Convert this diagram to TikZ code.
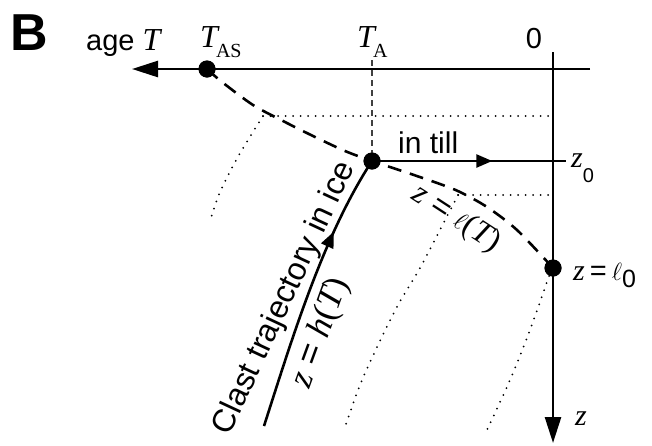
\documentclass[tikz,border=0pt]{standalone}
\usepackage{fontspec}
\setmainfont{Liberation Sans}
\newfontfamily\tms{Liberation Serif}
\usetikzlibrary{arrows.meta,decorations.markings}
\newcommand\mvar[1]{{\tms\itshape #1}}
\newcommand\txtsz{\fontsize{29}{31}\selectfont}
\newcommand\mthsz{\fontsize{32}{34}\selectfont}
\newcommand\zsz{\fontsize{30}{32}\selectfont}
\newcommand\subsz{\fontsize{20}{22}\selectfont}
\begin{document}
\begin{tikzpicture}[x=1pt,y=-1pt,
  axis/.style={line width=2.6pt},
  bigtip/.style={-{Triangle[length=26pt,width=16pt]}},
  dot/.style={circle,fill=black,inner sep=0pt,minimum size=17pt},
  dashcurve/.style={line width=2.6pt,dash pattern=on 14pt off 9pt},
  guide/.style={line width=1.2pt,dash pattern=on 6pt off 4pt,black!75},
  dotline/.style={line width=2pt,line cap=round,dash pattern=on 0pt off 7.5pt,black},
  lbl/.style={inner sep=0pt},
  midarrow/.style={postaction={decorate},decoration={markings,mark=at position #1 with {\arrow{Triangle[length=16pt,width=13pt]}}}}
]
\useasboundingbox (0,0) rectangle (652,445);

% coordinates
\coordinate (hR) at (590,69);
\coordinate (hL) at (132,69);
\coordinate (vT) at (553,52);
\coordinate (vB) at (553,443);
\coordinate (taTop) at (372,60);
\coordinate (z0end) at (566,161);
\coordinate (c0) at (264,426);
\coordinate (d1a) at (263,116);
\coordinate (d1b) at (553,116);
\coordinate (d2a) at (458,195);
\coordinate (d2b) at (553,195);
\coordinate (d3a) at (549,276);

% nodes (dots)
\node[dot] (tas) at (207,69) {};
\node[dot] (ta) at (372,161) {};
\node[dot] (l0) at (553,268) {};

% dotted lines
\draw[dotline] (d1a) -- (d1b);
\draw[dotline] (d2a) -- (d2b);
\draw[dotline] plot[smooth] coordinates {(d1a) (239,155) (220,192) (211,218)};
\draw[dotline] plot[smooth] coordinates {(d2a) (441,228) (420,268) (398,305) (378,345) (360,385) (345,427)};
\draw[dotline] plot[smooth] coordinates {(d3a) (530,330) (510,380) (487,430)};

% dashed curve z = l(T)
\draw[dashcurve] plot[smooth] coordinates {(tas.center) (222,82) (253,105) (283,121) (313,136) (345,151) (ta.center) (408,173) (440,184) (460,192) (487,207) (517,230) (l0.center)};

% guide for T_A
\draw[guide] (taTop) -- (ta.center);

% axes
\draw[axis,bigtip] (hR) -- (hL);
\draw[axis,bigtip] (vT) -- (vB);

% in till
\draw[axis,midarrow=0.62] (ta.center) -- (z0end);

% clast trajectory
\draw[axis,midarrow=0.72] (c0) .. controls (292,339) and (323,236) .. (ta.center);

% redraw dots on top
\node[dot] at (tas) {};
\node[dot] at (ta) {};
\node[dot] at (l0) {};

% labels
\node[lbl,anchor=base] (B) at (29,50) {\fontsize{52}{54}\selectfont\bfseries B};
\node[lbl,anchor=base west] (age) at (86,50) {\txtsz age {\fontsize{32}{34}\selectfont\mvar{T}}};
\node[lbl,anchor=base west] (tasl) at (200,47) {\mthsz\mvar{T}\kern-2pt\raisebox{-10pt}{\subsz\tms AS}};
\node[lbl,anchor=base west] (tal) at (357,47) {\mthsz\mvar{T}\kern-2pt\raisebox{-10pt}{\subsz\tms A}};
\node[lbl,anchor=base] (zero) at (534,48) {\txtsz 0};
\node[lbl,anchor=base west] (till) at (398,153) {\fontsize{30}{32}\selectfont in till};
\node[lbl,anchor=base west] (z0l) at (571,167) {\zsz\mvar{z}\raisebox{-15pt}{\subsz 0}};
\node[lbl,anchor=base west] (l0l) at (573,280) {\zsz\mvar{z}\,{\txtsz=}\,{\fontsize{38}{40}\selectfont$\ell$}\raisebox{-7pt}{\fontsize{25}{27}\selectfont 0}};
\node[lbl,anchor=base west] (zl) at (575,425) {\zsz\mvar{z}};
\node[lbl,rotate=-33] (ellT) at (456,219) {\fontsize{32}{34}\selectfont\mvar{z} = {\fontsize{38}{40}\selectfont$\ell$}{\tms(}\mvar{T}{\tms)}};
\node[lbl,rotate=70] (hT) at (321,333) {\fontsize{35}{37}\selectfont\mvar{z} = \mvar{h}{\tms(}\mvar{T}{\tms)}};
\node[lbl,rotate=65] (clast) at (285,298) {\fontsize{32}{34}\selectfont Clast trajectory in ice};
\end{tikzpicture}
\end{document}
